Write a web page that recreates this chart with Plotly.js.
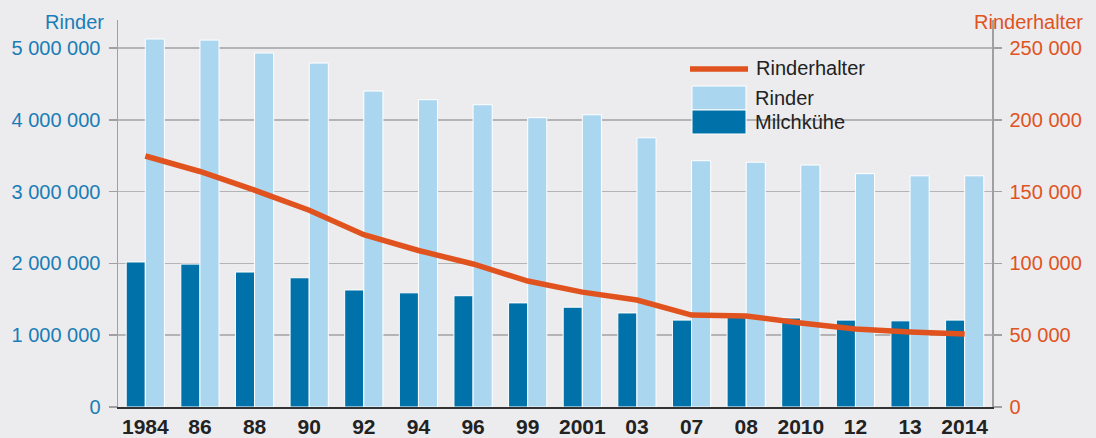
<!DOCTYPE html>
<html>
<head>
<meta charset="utf-8">
<script src="https://cdn.plot.ly/plotly-3.0.1.min.js"></script>
<style>html,body{margin:0;padding:0;background:#ececee;}#chart{width:1096px;height:438px;}</style>
</head>
<body>
<div id="chart"></div>
<script>
var years = ["1984","1986","1988","1990","1992","1994","1996","1999","2001","2003","2007","2008","2010","2012","2013","2014"];
var yearLabels = ["1984","86","88","90","92","94","96","99","2001","03","07","08","2010","12","13","2014"];
var milchkuehe = [2020000,1990000,1880000,1800000,1630000,1590000,1550000,1450000,1390000,1310000,1210000,1250000,1240000,1210000,1200000,1210000];
var rinder = [5125000,5110000,4930000,4790000,4400000,4280000,4210000,4030000,4070000,3750000,3430000,3410000,3370000,3250000,3220000,3220000];
var rinderhalter = [174800,164000,151000,137000,120000,109000,99600,87700,80000,74500,64000,63400,58500,54300,52200,50800];

var BG = '#ececee', BLUE = '#1a7db7', ORANGE = '#e0531f', DARK = '#0072a9', LIGHT = '#abd6f0';
var FONT = 'Liberation Sans, Arial, Helvetica, sans-serif';
var FS = 20;

var traces = [
  {type:'bar', name:'Milchkühe', x:years, y:milchkuehe, marker:{color:DARK, line:{color:'#ffffff', width:1}}, showlegend:false, hoverinfo:'skip'},
  {type:'bar', name:'Rinder', x:years, y:rinder, marker:{color:LIGHT, line:{color:'#ffffff', width:1}}, showlegend:false, hoverinfo:'skip'},
  {type:'scatter', mode:'lines', name:'Rinderhalter', x:years, y:rinderhalter, yaxis:'y2', line:{color:ORANGE, width:5.5}, showlegend:false, hoverinfo:'skip'}
];

var layout = {
  width:1096, height:438,
  margin:{l:118, r:104, t:20, b:31, pad:0},
  paper_bgcolor:BG, plot_bgcolor:BG,
  font:{family:FONT, size:FS, color:'#222'},
  separators:', ',
  barmode:'group', bargap:0.3, bargroupgap:0,
  showlegend:false,
  xaxis:{type:'category', tickmode:'array', tickvals:years, ticktext:yearLabels,
    tickfont:{family:FONT, size:21, color:'#222', weight:'bold'},
    showgrid:false, showline:true, linecolor:'#333', linewidth:2, ticks:'', range:[-0.5,15.5], fixedrange:true, zeroline:false, ticklabelstandoff:0},
  yaxis:{range:[0,5390000], tickvals:[0,1000000,2000000,3000000,4000000,5000000], tickformat:',d', exponentformat:'none',
    tickfont:{family:FONT, size:FS, color:BLUE}, showgrid:true, gridcolor:'#b4b4b6', gridwidth:1.5,
    ticks:'outside', ticklen:8, tickcolor:'#a0a0a2', tickwidth:1.5,
    showline:true, linecolor:'#a0a0a2', linewidth:1.5, zeroline:false, ticklabelstandoff:4},
  yaxis2:{overlaying:'y', side:'right', range:[0,269500], tickvals:[0,50000,100000,150000,200000,250000], tickformat:',d', exponentformat:'none',
    tickfont:{family:FONT, size:FS, color:ORANGE}, showgrid:false,
    ticks:'outside', ticklen:8, tickcolor:'#a0a0a2', tickwidth:1.5,
    showline:true, linecolor:'#a0a0a2', linewidth:1.5, zeroline:false, ticklabelstandoff:4},
  shapes:[
    {type:'rect', xref:'paper', yref:'paper', x0:(660-118)/874, x1:(880-118)/874, y0:(407-140)/387, y1:(407-52)/387, fillcolor:BG, line:{width:0}, layer:'below'},
    {type:'line', xref:'paper', yref:'paper', x0:(690-118)/874, x1:(748-118)/874, y0:(407-69)/387, y1:(407-69)/387, line:{color:ORANGE, width:5.5}},
    {type:'rect', xref:'paper', yref:'paper', x0:(692-118)/874, x1:(746-118)/874, y0:(407-110)/387, y1:(407-86)/387, fillcolor:LIGHT, line:{color:'#ffffff', width:1}},
    {type:'rect', xref:'paper', yref:'paper', x0:(692-118)/874, x1:(746-118)/874, y0:(407-134)/387, y1:(407-110)/387, fillcolor:DARK, line:{color:'#ffffff', width:1}}
  ],
  annotations:[
    {text:'Rinder', xref:'paper', yref:'paper', x:(106-118)/874, y:(407-22)/387, xanchor:'right', yanchor:'middle', showarrow:false, font:{family:FONT, size:FS, color:BLUE}},
    {text:'Rinderhalter', xref:'paper', yref:'paper', x:(1085-118)/874, y:(407-22)/387, xanchor:'right', yanchor:'middle', showarrow:false, font:{family:FONT, size:FS, color:ORANGE}},
    {text:'Rinderhalter', xref:'paper', yref:'paper', x:(754-118)/874, y:(407-68)/387, xanchor:'left', yanchor:'middle', showarrow:false, font:{family:FONT, size:FS, color:'#222'}},
    {text:'Rinder', xref:'paper', yref:'paper', x:(753-118)/874, y:(407-98)/387, xanchor:'left', yanchor:'middle', showarrow:false, font:{family:FONT, size:FS, color:'#222'}},
    {text:'Milchkühe', xref:'paper', yref:'paper', x:(753-118)/874, y:(407-122)/387, xanchor:'left', yanchor:'middle', showarrow:false, font:{family:FONT, size:FS, color:'#222'}}
  ]
};

Plotly.newPlot('chart', traces, layout, {staticPlot:true, displayModeBar:false});
</script>
</body>
</html>
